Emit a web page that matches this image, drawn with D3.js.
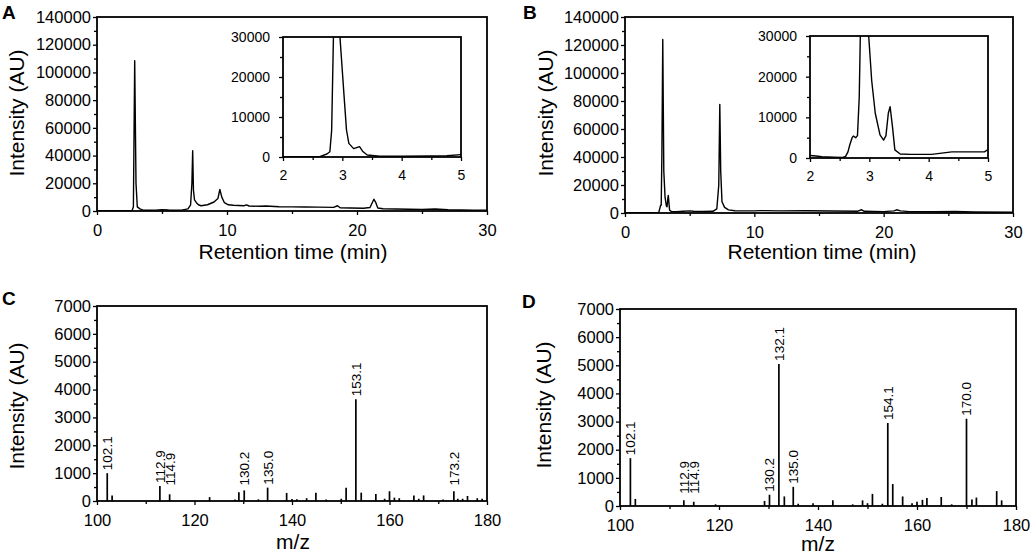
<!DOCTYPE html>
<meta charset="utf-8">
<style>
  body { margin: 0; background: #fff; }
  svg text { font-family: "Liberation Sans", Arial, sans-serif; fill: #000; }
</style>
<script src="https://d3js.org/d3.v7.min.js"></script>
<div id="fig"></div>
<script>

// chromatogram A, whole run  [time (min), intensity (AU)]
var chromA = [[0,200],[1,150],[2,200],[2.7,300],[2.8,3000],[2.9,108500],[3.0,20000],[3.1,3000],[3.3,1500],
  [3.6,500],[4.5,600],[5,1000],[5.5,700],[6.5,600],[7.0,1500],[7.2,4500],[7.3,20000],[7.36,43500],[7.42,15000],
  [7.5,8000],[7.65,6000],[7.8,4500],[8.0,3800],[8.5,4500],[9.0,6500],[9.3,9000],[9.45,15500],[9.6,10000],
  [9.8,6000],[10.1,4500],[10.5,4200],[11.3,3800],[11.5,4400],[11.7,3600],[12.5,3400],[13,3600],[14,3100],
  [15,3000],[16,2900],[17,2800],[18.2,2600],[18.5,3800],[18.7,2300],[19.5,2200],[20.5,2000],[21.0,2500],
  [21.2,6500],[21.3,8500],[21.45,6000],[21.6,2200],[22,1600],[23,1400],[24,1300],[25,1200],[26,1400],
  [27,900],[28,700],[29,600],[30,600]];

// chromatogram A, zoom 2-5 min
var insetA = [[2,0],[2.4,50],[2.62,100],[2.74,750],[2.79,1300],[2.82,6700],[2.85,30000],[2.9,108500],
  [2.96,30000],[3.03,15100],[3.07,6750],[3.11,3400],[3.19,2100],[3.29,2600],[3.35,1300],[3.42,500],
  [3.63,200],[4.0,200],[4.5,250],[4.76,300],[5,600]];

// chromatogram B, whole run
var chromB = [[0,300],[1,200],[2,300],[2.3,100],[2.6,200],[2.7,3500],[2.75,5500],[2.8,5500],[2.85,40000],
  [2.92,124000],[3.0,30000],[3.1,11000],[3.2,5000],[3.25,4500],[3.32,11000],[3.35,12500],[3.4,7000],
  [3.45,2000],[3.6,1000],[4,900],[4.5,1300],[5,1500],[5.3,1200],[6,1100],[6.8,1200],[7.1,3000],
  [7.25,20000],[7.33,77500],[7.4,30000],[7.5,8000],[7.7,4000],[8,2200],[8.5,1600],[10,1500],[10.5,1700],
  [12,1500],[14,1600],[16,1400],[18,1300],[18.3,2300],[18.5,1200],[20,1000],[20.8,1500],[21.0,2300],
  [21.3,1500],[22,1000],[24,900],[25.5,1100],[27,700],[30,500]];

// chromatogram B, zoom 2-5 min
var insetB = [[2,600],[2.1,500],[2.2,300],[2.4,200],[2.55,150],[2.6,400],[2.64,1500],[2.67,3200],
  [2.71,5000],[2.73,5400],[2.77,5000],[2.8,5500],[2.83,15000],[2.86,40000],[2.92,124000],[2.98,32000],
  [3.04,19000],[3.1,11000],[3.18,5700],[3.24,4400],[3.28,5500],[3.32,11000],[3.35,12600],[3.39,7700],
  [3.43,2000],[3.52,1000],[3.7,900],[4.05,900],[4.39,1500],[4.94,1500],[5,2100]];

// mass spectrum C  [m/z, intensity]
var specC = [[102.1,1000],[103.1,200],[112.9,540],[114.9,240],[123.1,140],[128.3,50],[129.1,310],
  [130.2,380],[133.1,60],[135.0,480],[138.9,290],[140,70],[141,60],[143,100],[144.9,300],[147,50],
  [150.1,80],[151.1,480],[153.1,3650],[154.2,300],[157.2,250],[159,80],[160,350],[161,120],[162,100],
  [165,200],[166,80],[167,200],[171,50],[173.2,350],[174,80],[175,80],[176,180],[178,100],[179,80]];
var labelsC = [102.1, 112.9, 114.9, 130.2, 135.0, 153.1, 173.2];

// mass spectrum D
var specD = [[102.1,1700],[103.1,250],[112.9,200],[114.9,150],[119.3,60],[129.2,180],[130.2,400],
  [132.1,5050],[133.2,340],[135.0,680],[136,80],[139,100],[143,200],[147,60],[149,200],[150,100],
  [151,430],[153,80],[154.1,2950],[155.1,780],[157.1,340],[159,100],[160,150],[161.1,220],[162,280],
  [164.9,320],[167,60],[170.0,3100],[171.1,230],[172,300],[176.1,530],[177.1,200]];
var labelsD = [102.1, 112.9, 114.9, 130.2, 132.1, 135.0, 154.1, 170.0];

var xTicksChrom = [0, 10, 20, 30], xMinorChrom = [5, 15, 25];
var yTicksChrom = [0, 20000, 40000, 60000, 80000, 100000, 120000, 140000];
var yMinorChrom = [10000, 30000, 50000, 70000, 90000, 110000, 130000];
var xTicksInset = [2, 3, 4, 5], xMinorInset = [2.5, 3.5, 4.5];
var yTicksInset = [0, 10000, 20000, 30000], yMinorInset = [5000, 15000, 25000];
var xTicksMS = [100, 120, 140, 160, 180], xMinorMS = [110, 130, 150, 170];
var yTicksMS = [0, 1000, 2000, 3000, 4000, 5000, 6000, 7000];
var yMinorMS = [500, 1500, 2500, 3500, 4500, 5500, 6500];

var width = 1031, height = 558;
var svg = d3.select("#fig").append("svg")
  .attr("width", width).attr("height", height);

var clipN = 0;

// axes box with major + minor ticks, returns scales
function panel(box, xdom, ydom, xt, xm, yt, ym, fs, ypad) {
  var x = d3.scaleLinear().domain(xdom).range([box.l, box.r]);
  var y = d3.scaleLinear().domain(ydom).range([box.b, box.t]);
  var g = svg.append("g");

  g.append("rect").attr("x", box.l).attr("y", box.t)
    .attr("width", box.r - box.l).attr("height", box.b - box.t)
    .attr("fill", "#fff");

  g.append("g").attr("transform", "translate(0," + box.b + ")")
    .call(d3.axisBottom(x).tickValues(xt).tickSize(4).tickPadding(9).tickFormat(d3.format("d")));
  g.append("g").attr("transform", "translate(0," + box.b + ")")
    .call(d3.axisBottom(x).tickValues(xm).tickSize(3).tickFormat(""));
  g.append("g").attr("transform", "translate(" + box.l + ",0)")
    .call(d3.axisLeft(y).tickValues(yt).tickSize(4).tickPadding(ypad).tickFormat(d3.format("d")));
  g.append("g").attr("transform", "translate(" + box.l + ",0)")
    .call(d3.axisLeft(y).tickValues(ym).tickSize(3).tickFormat(""));
  g.selectAll(".domain").remove();
  g.selectAll(".tick line").attr("stroke", "#000").attr("stroke-width", 1.3);
  g.selectAll(".tick text").style("font-size", fs + "px").attr("fill", "#000");

  clipN++;
  svg.append("clipPath").attr("id", "clip" + clipN)
    .append("rect").attr("x", box.l).attr("y", box.t)
    .attr("width", box.r - box.l).attr("height", box.b - box.t);

  return { x: x, y: y, g: g, clip: "url(#clip" + clipN + ")", box: box };
}

function border(p) {
  p.g.append("rect").attr("x", p.box.l).attr("y", p.box.t)
    .attr("width", p.box.r - p.box.l).attr("height", p.box.b - p.box.t)
    .attr("fill", "none").attr("stroke", "#000").attr("stroke-width", 1.8);
}

function trace(p, data) {
  var line = d3.line().x(function(d) { return p.x(d[0]); }).y(function(d) { return p.y(d[1]); });
  p.g.append("path").datum(data).attr("d", line)
    .attr("clip-path", p.clip)
    .attr("fill", "none").attr("stroke", "#000").attr("stroke-width", 1.4)
    .attr("stroke-linejoin", "round");
  border(p);
}

function spectrum(p, data, labels, minLab) {
  p.g.selectAll(".bar").data(data).enter().append("line")
    .attr("x1", function(d) { return p.x(d[0]); }).attr("x2", function(d) { return p.x(d[0]); })
    .attr("y1", p.y(0)).attr("y2", function(d) { return p.y(d[1]); })
    .attr("stroke", "#000").attr("stroke-width", 1.7);
  p.g.selectAll(".lab").data(labels).enter().append("text")
    .attr("transform", function(m) {
      var v = data.find(function(d) { return d[0] === m; })[1];
      return "translate(" + p.x(m) + "," + (p.y(Math.max(v, minLab)) - 3) + ") rotate(-90)";
    })
    .attr("dy", "0.36em")
    .style("font-size", "13.5px")
    .text(function(m) { return m.toFixed(1); });
  border(p);
}

function title(txt, x, y, rot) {
  svg.append("text").attr("transform", "translate(" + x + "," + y + ")" + (rot ? " rotate(-90)" : ""))
    .attr("text-anchor", "middle").style("font-size", "21px").text(txt);
}
function letter(txt, x, y) {
  svg.append("text").attr("x", x).attr("y", y).style("font-size", "19px")
    .style("font-weight", "bold").text(txt);
}

// A
var pA = panel({ l: 97, r: 487, t: 17, b: 211 }, [0, 30], [0, 140000],
  xTicksChrom, xMinorChrom, yTicksChrom, yMinorChrom, 16.5, 2);
trace(pA, chromA);
var pAi = panel({ l: 283, r: 461, t: 37, b: 157 }, [2, 5], [0, 30000],
  xTicksInset, xMinorInset, yTicksInset, yMinorInset, 14, 9);
trace(pAi, insetA);
title("Retention time (min)", 293, 259);
title("Intensity (AU)", 24, 113, true);
letter("A", 2, 19);

// B
var pB = panel({ l: 625, r: 1013, t: 17, b: 213 }, [0, 30], [0, 140000],
  xTicksChrom, xMinorChrom, yTicksChrom, yMinorChrom, 16.5, 2);
trace(pB, chromB);
var pBi = panel({ l: 810, r: 988, t: 36, b: 158 }, [2, 5], [0, 30000],
  xTicksInset, xMinorInset, yTicksInset, yMinorInset, 14, 9);
trace(pBi, insetB);
title("Retention time (min)", 822, 259);
title("Intensity (AU)", 553, 113, true);
letter("B", 523, 19);

// C
var pC = panel({ l: 97, r: 487, t: 306, b: 501 }, [100, 180], [0, 7000],
  xTicksMS, xMinorMS, yTicksMS, yMinorMS, 16.5, 2);
spectrum(pC, specC, labelsC, 450);
title("m/z", 293, 549);
title("Intensity (AU)", 24, 406, true);
letter("C", 2, 305);

// D
var pD = panel({ l: 620, r: 1016, t: 309, b: 506 }, [100, 180], [0, 7000],
  xTicksMS, xMinorMS, yTicksMS, yMinorMS, 16.5, 2);
spectrum(pD, specD, labelsD, 330);
title("m/z", 818, 551);
title("Intensity (AU)", 551, 405, true);
letter("D", 522, 308);

</script>
